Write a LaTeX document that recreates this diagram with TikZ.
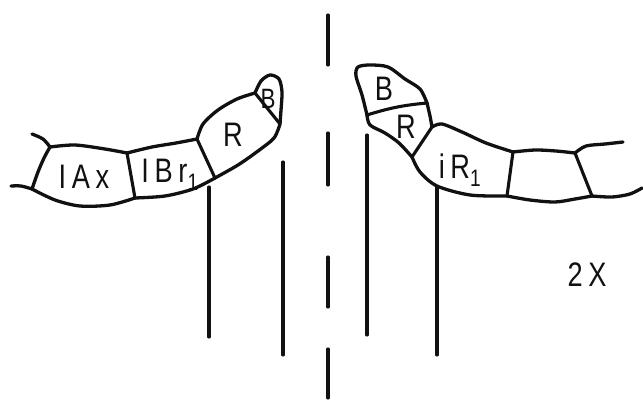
\documentclass[tikz,border=0pt]{standalone}
\usepackage{fontspec}
\setmainfont{Liberation Sans}
\newfontfamily\letterfont[FakeStretch=0.8]{Liberation Sans}
\usepackage{tikz}
\usetikzlibrary{positioning}
\definecolor{inkline}{HTML}{111111}
\tikzset{
every picture/.style={line cap=round,line join=round},
seg outline/.style={draw=inkline, line width=3.3pt},
seg wall/.style={draw=inkline, line width=3.1pt},
cut line/.style={draw=inkline, line width=3.1pt},
seg label/.style={font=\letterfont\fontsize{34}{34}\selectfont, text=inkline, inner sep=0pt},
tip label/.style={seg label, font=\letterfont\fontsize{28}{28}\selectfont}
}

\begin{document}
\begin{tikzpicture}[x=1pt,y=-1pt]
\useasboundingbox (0,0) rectangle (643,402);

% left arm
\draw[seg outline] plot[smooth] coordinates {(50,147) (75,145) (105,149) (127,153)};
\draw[seg outline] plot[smooth] coordinates {(127,153) (152,147) (176,143) (197,139)};
\draw[seg outline] plot[smooth] coordinates {(197,139) (203,124) (218,110) (237,99) (255,93)};
\draw[seg outline] plot[smooth] coordinates {(255,93) (261,81) (270,75) (279,79) (282,92) (281,110) (280,124)};
\draw[seg outline] plot[smooth] coordinates {(280,124) (274,138) (258,151) (238,165) (215,178)};
\draw[seg outline] plot[smooth] coordinates {(215,178) (193,189) (165,196) (135,198)};
\draw[seg outline] plot[smooth] coordinates {(135,198) (110,205) (80,206) (55,200) (32,189)};
\draw[seg outline] plot[smooth] coordinates {(32,189) (38,172) (44,158) (50,147)};
\draw[seg outline] plot[smooth] coordinates {(50,147) (43,139) (32,134)};
\draw[seg outline] plot[smooth] coordinates {(32,189) (21,186) (11,186)};
\draw[seg wall] (127,153) -- (135,198);
\draw[seg wall] (197,139) -- (215,178);
\draw[seg wall] (255,93) -- (280,124);

% right arm
\draw[seg outline] plot[smooth] coordinates {(367,115) (362,95) (356,76) (358,67) (370,65) (388,67) (405,79) (420,89) (427,103)};
\draw[seg outline] plot[smooth] coordinates {(427,103) (430,116) (432,127)};
\draw[seg outline] plot[smooth] coordinates {(367,115) (370,125) (385,133) (399,143) (412,157)};
\draw[seg outline] plot[smooth] coordinates {(432,127) (442,124) (462,132) (486,143) (513,152)};
\draw[seg outline] plot[smooth] coordinates {(412,157) (420,172) (437,186) (470,195) (507,196)};
\draw[seg outline] plot[smooth] coordinates {(513,152) (535,150) (556,151) (575,153)};
\draw[seg outline] plot[smooth] coordinates {(507,196) (530,200) (555,202) (575,199) (592,196)};
\draw[seg outline] plot[smooth] coordinates {(575,153) (586,146) (605,144) (623,142)};
\draw[seg outline] plot[smooth] coordinates {(592,196) (612,197) (630,194) (642,188)};
\draw[seg wall] (367,115) to[bend left=6] (427,103);
\draw[seg wall] (432,127) -- (412,157);
\draw[seg wall] (513,152) -- (507,196);
\draw[seg wall] (575,153) -- (592,196);

% cut levels
\draw[cut line] (209,187) -- (209,337);
\draw[cut line] (283,162) -- (283,355);
\draw[cut line] (367,135) -- (367,335);
\draw[cut line] (437,187) -- (437,355);
\foreach \ya/\yb in {15/65,133/185,257/307,349/398}
  \draw[cut line] (328,\ya) -- (328,\yb);

% labels
\node[seg label] (iax) at (84,177) {I\,A\,x};
\node[seg label] (ibr) at (170,175) {I\,B\,r\textsubscript{1}};
\node[seg label] (rleft) at (233,135) {R};
\node[tip label] (bleft) at (268,99) {B};
\node[seg label] (bright) at (384,89) {B};
\node[seg label] (rright) at (406,127) {R};
\node[seg label] (ir) at (460,170) {i\,R\textsubscript{1}};
\node[seg label] (mag) at (587,275) {2\,X};
\end{tikzpicture}
\end{document}
